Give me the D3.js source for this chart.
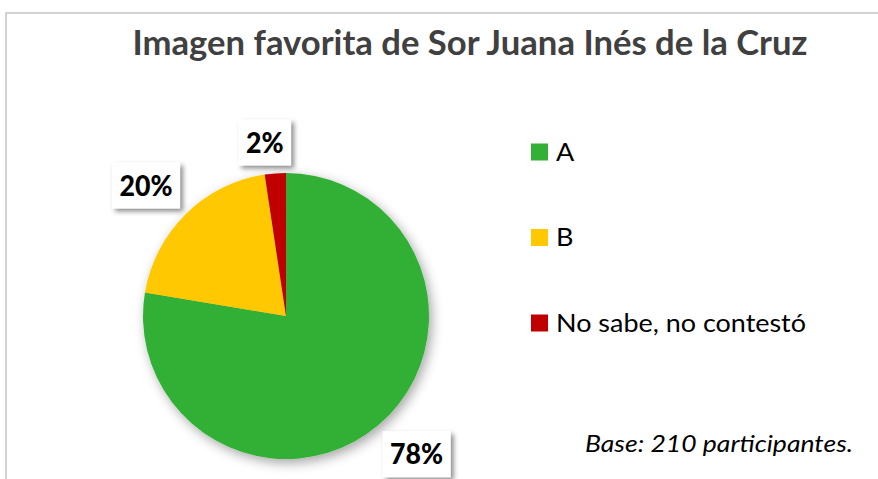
<!DOCTYPE html>
<html>
<head>
<meta charset="utf-8">
<script src="https://cdn.jsdelivr.net/npm/d3@7"></script>
<style>
    body { margin: 0; background: #fff; }
    svg { display: block; }
</style>
</head>
<body>
<svg id="pie-chart" width="878" height="479"></svg>
<script>
    // data (210 participants)
    var categories = ["A", "B", "No sabe, no contestó"];
    var counts = [163, 42, 5];
    var percentLabels = ["78%", "20%", "2%"];
    var colors = ["#33b035", "#ffc800", "#c00000"];
    var title = "Imagen favorita de Sor Juana Inés de la Cruz";
    var note = "Base: 210 participantes.";

    var svg = d3.select("#pie-chart");
    var font = "Lato, 'Open Sans', sans-serif";

    // squeeze a group of texts horizontally so the reference one gets the wanted width
    // (the original font is narrower than Lato)
    function squeeze(sel, refIndex, target) {
        var lens = [];
        sel.each(function(){ lens.push(this.getComputedTextLength()); });
        var k = target / lens[refIndex];
        sel.each(function(d, i){
            d3.select(this)
                .attr("textLength", lens[i] * k)
                .attr("lengthAdjust", "spacingAndGlyphs");
        });
        return k;
    }

    var defs = svg.append("defs");
    defs.append("filter").attr("id", "pie-shadow")
        .attr("x", "-20%").attr("y", "-20%").attr("width", "140%").attr("height", "140%")
        .append("feDropShadow")
        .attr("dx", 3).attr("dy", 4).attr("stdDeviation", 6)
        .attr("flood-color", "#000").attr("flood-opacity", 0.35);
    defs.append("filter").attr("id", "box-shadow")
        .attr("x", "-30%").attr("y", "-30%").attr("width", "160%").attr("height", "160%")
        .append("feDropShadow")
        .attr("dx", 3).attr("dy", 3).attr("stdDeviation", 2.5)
        .attr("flood-color", "#000").attr("flood-opacity", 0.45);

    // chart frame (only top and left edges are in the picture)
    svg.append("path")
        .attr("d", "M6,479 V13 H878")
        .attr("fill", "none")
        .attr("stroke", "#c4c4c4")
        .attr("stroke-width", 1.5);

    // title
    var titleText = svg.append("text")
        .attr("x", 470).attr("y", 55)
        .attr("text-anchor", "middle")
        .attr("font-family", font)
        .attr("font-weight", "bold")
        .attr("font-size", 34)
        .attr("fill", "#404040")
        .text(title);
    squeeze(titleText, 0, 675);

    // pie
    var cx = 286, cy = 316, radius = 143;
    var pie = d3.pie().sort(null).value(function(d){ return d; });
    var arcs = pie(counts);
    var arc = d3.arc().innerRadius(0).outerRadius(radius);

    var chart = svg.append("g")
        .attr("transform", "translate(" + cx + "," + cy + ")");

    chart.append("g")
        .attr("filter", "url(#pie-shadow)")
        .selectAll(".slice")
        .data(arcs)
        .enter()
        .append("path")
        .classed("slice", true)
        .attr("d", arc)
        .attr("fill", function(d, i){ return colors[i]; });

    // percent labels in white boxes, outside end
    var labels = chart.selectAll(".pct")
        .data(arcs)
        .enter()
        .append("g")
        .classed("pct", true);

    var labelText = labels.append("text")
        .attr("text-anchor", "middle")
        .attr("font-family", font)
        .attr("font-weight", "900")
        .attr("font-size", 28)
        .attr("fill", "#000")
        .text(function(d, i){ return percentLabels[i]; });
    squeeze(labelText, 0, 53);

    labels.each(function(d) {
        var g = d3.select(this);
        var t = g.select("text");
        var w = +t.attr("textLength") + 15;
        var h = 46;
        var a = (d.startAngle + d.endAngle) / 2;
        var s = Math.sin(a), c = Math.cos(a);
        var px = s * (radius + 8), py = -c * (radius + 8);
        var ox = Math.sign(s) * Math.min(1, Math.abs(s) * 1.5) * w / 2;
        var oy = -Math.sign(c) * Math.min(1, Math.abs(c) * 1.5) * h / 2;
        if (Math.abs(s) < 0.2) ox = s * w / 2 - 8;
        g.attr("transform", "translate(" + (px + ox) + "," + (py + oy) + ")");
        g.insert("rect", "text")
            .attr("x", -w / 2).attr("y", -h / 2)
            .attr("width", w).attr("height", h)
            .attr("fill", "#fff")
            .attr("filter", "url(#box-shadow)");
        t.attr("dy", "0.36em");
    });

    // legend
    var legendY = d3.scalePoint()
        .domain(categories)
        .range([152, 323]);

    var legend = svg.selectAll(".legend")
        .data(categories)
        .enter()
        .append("g")
        .classed("legend", true)
        .attr("transform", function(d){ return "translate(531," + legendY(d) + ")"; });

    legend.append("rect")
        .attr("x", 0).attr("y", -8.5)
        .attr("width", 17).attr("height", 17)
        .attr("fill", function(d, i){ return colors[i]; });

    var legendText = legend.append("text")
        .attr("x", 25)
        .attr("dy", "0.36em")
        .attr("font-family", font)
        .attr("font-size", 24.5)
        .attr("fill", "#000")
        .text(function(d){ return d; });
    squeeze(legendText, 2, 250);

    // base note
    var noteText = svg.append("text")
        .attr("x", 585).attr("y", 452)
        .attr("font-family", font)
        .attr("font-style", "italic")
        .attr("font-size", 23.5)
        .attr("fill", "#000")
        .text(note);
    squeeze(noteText, 0, 268);
</script>
</body>
</html>
